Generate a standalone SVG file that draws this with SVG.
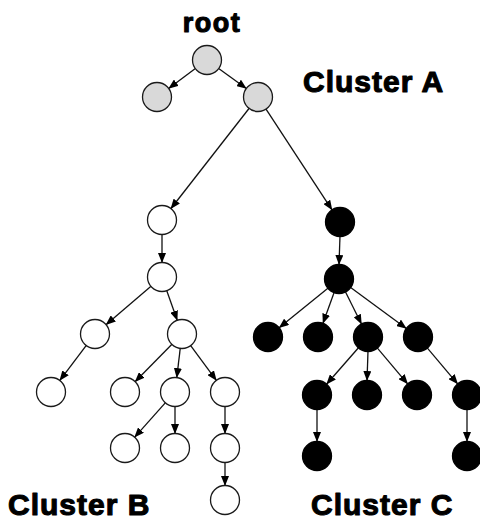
<svg xmlns="http://www.w3.org/2000/svg" width="480" height="522" viewBox="0 0 480 522">
  <style>
    .lbl { font-family: "Liberation Sans", Arial, sans-serif; font-weight: bold; fill: #000; stroke: #000; stroke-width: 1.1; stroke-linejoin: round; }
    .cl { font-size: 30px; letter-spacing: 1px; }
    .a circle { fill: #d9d9d9; stroke: #1a1a1a; stroke-width: 1.3; }
    .b circle { fill: #fff; stroke: #1a1a1a; stroke-width: 1.3; }
    .c circle { fill: #000; stroke: #000; stroke-width: 1.3; }
    #edges line { stroke: #111; stroke-width: 1.3; marker-end: url(#arrow); }
  </style>
  <defs>
    <marker id="arrow" markerUnits="userSpaceOnUse" markerWidth="10" markerHeight="8" refX="10" refY="4" orient="auto">
      <path d="M0,0 L10,4 L0,8 z" fill="#000"/>
    </marker>
  </defs>
  <rect width="480" height="522" fill="#fff"/>

  <text class="lbl" x="212" y="32" font-size="27" letter-spacing="1.5" text-anchor="middle">root</text>
  <text class="lbl cl" x="303" y="92">Cluster A</text>
  <text class="lbl cl" x="8" y="515">Cluster B</text>
  <text class="lbl cl" x="311" y="515">Cluster C</text>

  <g id="edges">
    <line x1="195.7" y1="68.3" x2="168.3" y2="88.7"/>
    <line x1="218.3" y1="68.2" x2="246.7" y2="88.8"/>
    <line x1="249.4" y1="108" x2="170.6" y2="209"/>
    <line x1="265.7" y1="108.7" x2="332.3" y2="210.3"/>
    <line x1="162" y1="234" x2="162" y2="263"/>
    <line x1="151.3" y1="286.1" x2="105.7" y2="324.9"/>
    <line x1="166.6" y1="290.2" x2="177.4" y2="320.8"/>
    <line x1="86.5" y1="345.2" x2="59.5" y2="380.8"/>
    <line x1="172.2" y1="344" x2="134.8" y2="382"/>
    <line x1="180.3" y1="347.9" x2="176.7" y2="378.1"/>
    <line x1="190.3" y1="345.2" x2="216.7" y2="380.8"/>
    <line x1="165.7" y1="402.4" x2="134.3" y2="437.6"/>
    <line x1="175" y1="406" x2="175" y2="434"/>
    <line x1="225" y1="406" x2="225" y2="434"/>
    <line x1="225" y1="462" x2="225" y2="486"/>
    <line x1="340" y1="236" x2="339" y2="265"/>
    <line x1="328.2" y1="287.9" x2="278.8" y2="328.1"/>
    <line x1="334.2" y1="292.2" x2="322.8" y2="323.8"/>
    <line x1="345.3" y1="291.5" x2="361.7" y2="324.5"/>
    <line x1="350.3" y1="287.3" x2="406.7" y2="328.7"/>
    <line x1="358.7" y1="347.5" x2="326.3" y2="384.5"/>
    <line x1="368" y1="351" x2="367" y2="381"/>
    <line x1="377" y1="347.7" x2="408" y2="384.3"/>
    <line x1="427" y1="347.7" x2="458" y2="384.3"/>
    <line x1="317" y1="409" x2="317" y2="442"/>
    <line x1="467" y1="409" x2="467" y2="442"/>
  </g>

  <g class="a">
    <g id="root"><circle cx="207" cy="60" r="14.5"/></g>
    <g id="a1"><circle cx="157" cy="97" r="14.5"/></g>
    <g id="a2"><circle cx="258" cy="97" r="14.5"/></g>
  </g>
  <g class="b">
    <g id="b1"><circle cx="162" cy="220" r="14.5"/></g>
    <g id="b2"><circle cx="162" cy="277" r="14.5"/></g>
    <g id="b3"><circle cx="95" cy="334" r="14.5"/></g>
    <g id="b4"><circle cx="182" cy="334" r="14.5"/></g>
    <g id="b5"><circle cx="51" cy="392" r="14.5"/></g>
    <g id="b6"><circle cx="125" cy="392" r="14.5"/></g>
    <g id="b7"><circle cx="175" cy="392" r="14.5"/></g>
    <g id="b8"><circle cx="225" cy="392" r="14.5"/></g>
    <g id="b9"><circle cx="125" cy="448" r="14.5"/></g>
    <g id="b10"><circle cx="175" cy="448" r="14.5"/></g>
    <g id="b11"><circle cx="225" cy="448" r="14.5"/></g>
    <g id="b12"><circle cx="225" cy="500" r="14.5"/></g>
  </g>
  <g class="c">
    <g id="c1"><circle cx="340" cy="222" r="14.5"/></g>
    <g id="c2"><circle cx="339" cy="279" r="14.5"/></g>
    <g id="c3"><circle cx="268" cy="337" r="14.5"/></g>
    <g id="c4"><circle cx="318" cy="337" r="14.5"/></g>
    <g id="c5"><circle cx="368" cy="337" r="14.5"/></g>
    <g id="c6"><circle cx="418" cy="337" r="14.5"/></g>
    <g id="c7"><circle cx="317" cy="395" r="14.5"/></g>
    <g id="c8"><circle cx="367" cy="395" r="14.5"/></g>
    <g id="c9"><circle cx="417" cy="395" r="14.5"/></g>
    <g id="c10"><circle cx="467" cy="395" r="14.5"/></g>
    <g id="c11"><circle cx="317" cy="456" r="14.5"/></g>
    <g id="c12"><circle cx="467" cy="456" r="14.5"/></g>
  </g>
</svg>
